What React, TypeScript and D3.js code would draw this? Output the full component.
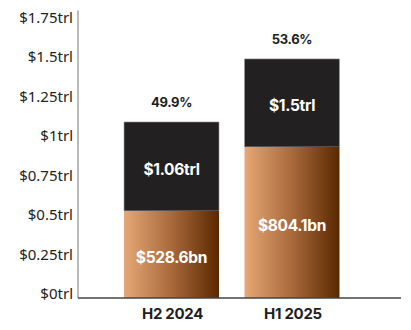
import React from "react";
import * as d3 from "d3";

const categories = ["H2 2024", "H1 2025"];
// segment heights as drawn in the picture (read against the y axis, in trillions)
const lowerDrawn = [0.551, 0.956];
const totalDrawn = [1.114, 1.513];
const lowerLabels = ["$528.6bn", "$804.1bn"];
const upperLabels = ["$1.06trl", "$1.5trl"];
const shareLabels = ["49.9%", "53.6%"];
const tickValues = [0, 0.25, 0.5, 0.75, 1, 1.25, 1.5, 1.75];
const tickLabels = ["$0trl", "$0.25trl", "$0.5trl", "$0.75trl", "$1trl", "$1.25trl", "$1.5trl", "$1.75trl"];

const W = 411;
const H = 330;
const axisX = 78;
const baseY = 298;

export default function App() {
  const y = d3.scaleLinear().domain([0, 1.75]).range([baseY, 21.5]);
  const x = d3
    .scaleBand<string>()
    .domain(categories)
    .range([axisX, 385.5])
    .paddingInner(0.2116)
    .paddingOuter(0.382);
  const bw = x.bandwidth();
  const boldFont = "Inter, 'Open Sans', sans-serif";

  return (
    <svg width={W} height={H} style={{ position: "absolute", left: 0, top: 0 }}>
      <defs>
        <linearGradient id="copper" x1="0" x2="1" y1="0" y2="0">
          <stop offset="0%" stopColor="#e6a877" />
          <stop offset="50%" stopColor="#a9693b" />
          <stop offset="100%" stopColor="#5a2800" />
        </linearGradient>
      </defs>
      {tickValues.map((v, i) => (
        <text
          key={v}
          x={73}
          y={y(v) + 1}
          textAnchor="end"
          fontFamily="'Noto Sans', 'Open Sans', sans-serif"
          fontSize={15}
          fill="#222"
        >
          {tickLabels[i]}
        </text>
      ))}
      {categories.map((c, i) => {
        const x0 = x(c)!;
        const cx = x0 + bw / 2;
        const yLow = y(lowerDrawn[i]);
        const yTop = y(totalDrawn[i]);
        return (
          <g key={c}>
            <rect x={x0} y={yTop} width={bw} height={yLow - yTop} fill="#222021" stroke="#9a9a9a" strokeWidth={0.6} />
            <rect x={x0} y={yLow} width={bw} height={baseY - yLow} fill="url(#copper)" />
            <text x={cx} y={(yTop + yLow) / 2 + 3} textAnchor="middle" dominantBaseline="central"
              fontFamily={boldFont} fontWeight={700} fontSize={15.5} fill="#fff" letterSpacing={-0.3}>
              {upperLabels[i]}
            </text>
            <text x={cx} y={(yLow + baseY) / 2 + 3} textAnchor="middle" dominantBaseline="central"
              fontFamily={boldFont} fontWeight={700} fontSize={15.5} fill="#fff" letterSpacing={-0.3}>
              {lowerLabels[i]}
            </text>
            <text x={cx} y={yTop - 15} textAnchor="middle"
              fontFamily={boldFont} fontWeight={700} fontSize={13} fill="#1e1e1e" letterSpacing={-0.3}>
              {shareLabels[i]}
            </text>
            <text x={cx + 1} y={318.5} textAnchor="middle"
              fontFamily={boldFont} fontWeight={700} fontSize={15} fill="#1e1e1e" letterSpacing={-0.3}>
              {c}
            </text>
          </g>
        );
      })}
      <line x1={axisX} x2={axisX} y1={10.5} y2={baseY} stroke="#777" strokeWidth={1} />
      <line x1={axisX} x2={401} y1={baseY} y2={baseY} stroke="#444" strokeWidth={1.3} />
    </svg>
  );
}
